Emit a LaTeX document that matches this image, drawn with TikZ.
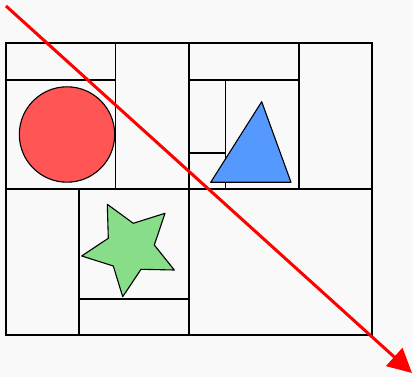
\documentclass[tikz,border=0pt]{standalone}
\usepackage{tikz}
\usetikzlibrary{arrows.meta}
\definecolor{bgcol}{HTML}{F9F9F9}
\definecolor{circcol}{HTML}{FF5555}
\definecolor{tricol}{HTML}{5599FF}
\definecolor{starcol}{HTML}{88DD88}

\begin{document}
\begin{tikzpicture}[
    x=1pt, y=-1pt,
    cell/.style={draw, line width=1.1pt},
    figure/.style={draw, line width=1.1pt, line join=round},
    cut/.style={draw=red, line width=3pt, -{Triangle[length=24pt, width=24pt]}}
]
    \fill[bgcol] (0,0) rectangle (413,377);
    \useasboundingbox (0,0) rectangle (413,377);

    % outer box and main splits
    \draw[cell] (6,43) rectangle (372,335);
    \draw[cell] (6,189) -- (372,189);
    \draw[cell] (189,43) -- (189,335);

    % top left
    \draw[cell] (115.5,43) -- (115.5,189);
    \draw[cell] (6,80) -- (115.5,80);

    % top right
    \draw[cell] (299,43) -- (299,189);
    \draw[cell] (189,80) -- (299,80);
    \draw[cell] (225.5,80) -- (225.5,189);
    \draw[cell] (189,153) -- (225.5,153);

    % bottom left
    \draw[cell] (79,189) -- (79,335);
    \draw[cell] (79,299) -- (189,299);

    % shapes
    \draw[figure, fill=circcol] (67,134.5) circle (47.7);
    \draw[figure, fill=tricol] (261.7,101.7) -- (291,182.3) -- (210.7,182.3) -- cycle;
    \draw[figure, fill=starcol] (107.3,204.3) -- (133.3,223.3) -- (165,213.3) -- (154.3,245)
        -- (174.3,270) -- (141,269.3) -- (122.7,296.7) -- (113.3,266)
        -- (81.7,256) -- (108.3,238.3) -- cycle;

    % diagonal
    \coordinate (from) at (6,6);
    \coordinate (to) at (412,373);
    \draw[cut] (from) -- (to);
\end{tikzpicture}
\end{document}
